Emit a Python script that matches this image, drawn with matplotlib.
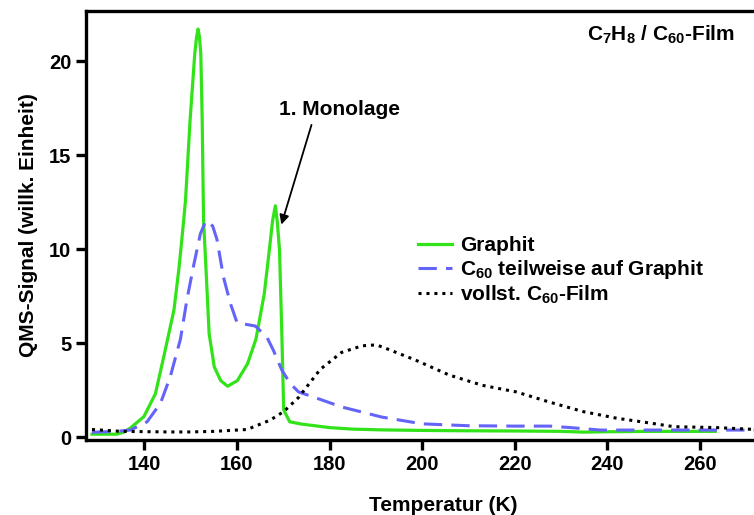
import numpy as np
import matplotlib.pyplot as plt

plt.rcParams['font.family'] = ['Liberation Sans', 'DejaVu Sans']
plt.rcParams['font.weight'] = 'bold'
plt.rcParams['mathtext.fontset'] = 'custom'
plt.rcParams['mathtext.rm'] = 'Liberation Sans:bold'
plt.rcParams['mathtext.it'] = 'Liberation Sans:bold'
plt.rcParams['mathtext.bf'] = 'Liberation Sans:bold'

# Graphit
t_gr = [128.7, 131, 134, 135.5, 137, 139.9, 142.4, 144.2, 146.4, 147.5, 148.5,
        148.9, 149.9, 150.9, 151.3, 151.6, 151.9, 152.2, 152.5, 152.8, 153.3,
        154.0, 155.1, 156.5, 158, 160.1, 162.3, 164.1, 165.9, 167, 167.7, 168.3,
        168.7, 169.2, 169.7, 170.1, 171.4, 173.9, 180, 185, 191, 200, 210, 220,
        230, 235, 240, 250, 263.3]
s_gr = [0.15, 0.15, 0.15, 0.25, 0.48, 1.08, 2.3, 4.27, 6.75, 9.0, 11.5,
        12.6, 16.9, 20.4, 21.3, 21.7, 21.3, 20.4, 16.9, 11.5, 9.06,
        5.5, 3.74, 3.0, 2.7, 3.0, 3.9, 5.2, 7.6, 9.95, 11.5, 12.3,
        11.5, 9.95, 5.5, 1.44, 0.81, 0.69, 0.5, 0.42, 0.38, 0.35, 0.33, 0.32,
        0.3, 0.26, 0.28, 0.3, 0.3]

# C60 teilweise auf Graphit
t_tw = [128.7, 134, 137, 140.6, 143.5, 145.6, 147.8, 149.2, 150.6, 152.1, 153.1,
        153.9, 154.8, 155.7, 157.1, 158.6, 160, 161.8, 164, 166.5, 167.9, 169.7,
        171.5, 173.3, 178, 182.6, 191.3, 200, 210, 220, 227.6, 232, 238.5, 250,
        260, 272]
s_tw = [0.25, 0.3, 0.37, 0.81, 1.8, 3.2, 5.2, 7.3, 9.06, 10.8, 11.4,
        11.5, 11.2, 10.5, 8.5, 7.1, 6.1, 6.0, 5.9, 5.3, 4.6, 3.56,
        2.85, 2.4, 2.0, 1.6, 1.06, 0.7, 0.6, 0.58, 0.58, 0.5, 0.37, 0.37,
        0.37, 0.37]

# vollst. C60-Film
t_vf = [128.7, 135, 145, 150, 155, 162.2, 167.2, 170.1, 173.3, 178, 182.6, 187,
        190, 191.3, 198.5, 205.8, 213, 220.3, 227.6, 234.8, 242, 249.3, 254.3,
        263.7, 272]
s_vf = [0.4, 0.3, 0.27, 0.27, 0.3, 0.4, 0.9, 1.35, 2.1, 3.6, 4.5, 4.85,
        4.9, 4.8, 4.1, 3.3, 2.75, 2.4, 1.85, 1.35, 1.0, 0.74, 0.55,
        0.5, 0.4]

fig = plt.figure(figsize=(7.54, 5.15), dpi=100)
ax = fig.add_axes([0.114, 0.1456, 0.947, 0.833])

ax.plot(t_gr, s_gr, color='#33e31a', lw=2.3, label='Graphit')
ax.plot(t_tw, s_tw, color='#6464f8', lw=2.2, linestyle=(0, (6, 3)),
        label=r'C$_{60}$ teilweise auf Graphit')
ax.plot(t_vf, s_vf, color='black', lw=2.2, linestyle=(0, (1, 1.6)),
        label=r'vollst. C$_{60}$-Film')

ax.set_xlim(127.4, 281.6)
ax.set_ylim(-0.16, 22.66)
ax.set_xticks([140, 160, 180, 200, 220, 240, 260])
ax.set_yticks([0, 5, 10, 15, 20])

for s in ['left', 'top', 'bottom']:
    ax.spines[s].set_linewidth(2.4)
ax.spines['right'].set_visible(False)
ax.tick_params(width=2.4, length=7, labelsize=14.5, direction='out')

ax.set_xlabel('Temperatur (K)', fontsize=15, fontweight='bold', labelpad=16)
ax.set_ylabel('QMS-Signal (willk. Einheit)', fontsize=15, fontweight='bold', labelpad=8)

fig.text(0.975, 0.932, r'C$_7$H$_8$ / C$_{60}$-Film',
         ha='right', va='center', fontsize=15, fontweight='bold')
ax.text(182.2, 17.15, '1. Monolage', fontsize=15, fontweight='bold',
        ha='center', va='baseline')
ax.annotate('', xy=(169.6, 11.3), xytext=(176.1, 16.6),
            arrowprops=dict(arrowstyle='-|>', color='black', lw=1.3,
                            mutation_scale=14, shrinkA=0, shrinkB=0))

ax.legend(loc='upper left', bbox_to_anchor=(0.543, 0.557), bbox_transform=fig.transFigure,
          frameon=False, fontsize=15, handlelength=1.65, handletextpad=0.4,
          labelspacing=0.12, borderaxespad=0)

fig.savefig('out.png', dpi=100)
